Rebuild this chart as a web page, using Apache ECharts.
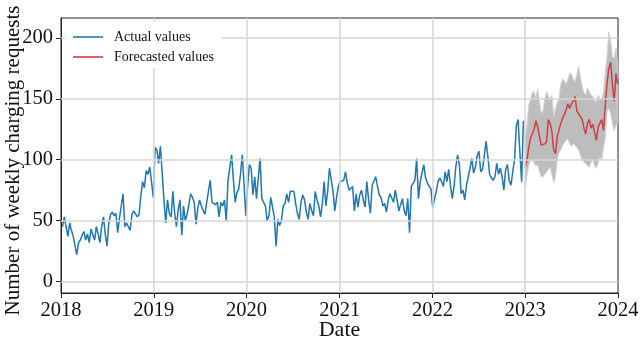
<!DOCTYPE html>
<html>
<head>
<meta charset="utf-8">
<script src="https://cdn.jsdelivr.net/npm/echarts@6/dist/echarts.min.js"></script>
<style>
html,body{margin:0;padding:0;background:#fff;}
#chart{width:640px;height:339px;}
</style>
</head>
<body>
<div id="chart"></div>
<script>
// ---- Data (weekly values) ----
const actual2018 = [45,53,54,37,48,42,37,38,22,32,34,38,41,34,39,32,43,42,34,45,39,32,45,53,39,29,48,55,57,54,56,40,52,51,72,45,48,47,42,55,58,57,53,55,70,82,77,91,88,94,82,69];
const actual2019 = [110,108,97,111,89,67,48,67,56,53,74,56,45,59,67,38,62,50,55,55,72,69,65,47,60,67,62,63,55,65,65,83,65,66,63,65,53,65,62,67,50,83,82,104,84,65,73,76,88,104,80,54];
const actual2020 = [78,96,93,71,86,68,85,101,68,69,62,50,54,69,61,53,29,51,46,50,62,64,72,65,74,75,74,64,56,51,65,71,67,57,51,64,58,54,74,67,62,53,64,82,62,74,93,92,74,58,69,78];
const actual2021 = [82,81,83,90,81,75,76,78,58,72,61,71,75,67,61,82,67,56,79,78,86,78,71,69,62,64,57,67,72,71,65,75,67,58,57,68,58,54,68,40,78,79,83,101,68,82,89,96,85,81,78,76];
const actual2022 = [61,60,74,82,85,82,78,90,82,92,79,68,78,94,104,96,72,75,67,79,86,93,101,89,94,103,107,90,92,103,115,103,88,85,83,86,97,88,93,86,75,92,96,83,79,90,100,128,133,106,82,132];
const forecast2023 = [94,100,110,118,121,125,132,127,128,112,111,113,115,133,130,123,108,105,119,118,130,134,137,141,146,142,146,148,152,140,138,138,133,126,121,130,133,126,129,128,116,127,130,133,124,145,163,175,180,162,148,171,162];
const bandUpper2023 = [118,128,145,150,155,156,150,158,148,138,140,150,156,152,150,153,136,142,147,150,162,166,165,162,166,171,170,166,164,170,177,168,160,155,153,159,156,153,152,148,148,153,150,150,155,171,185,205,198,185,183,192,178];
const bandLower2023 = [75,88,95,100,100,97,95,96,90,86,86,88,90,92,94,88,81,86,100,106,108,112,114,116,117,113,111,113,112,110,108,104,100,98,97,95,94,98,100,95,93,98,102,100,110,118,140,142,138,130,124,128,130];
const yTicks = [0,50,100,150,200];
const xYears = [2018,2019,2020,2021,2022,2023,2024];

// ---- Build series data ----
const DAY = 86400000;
const actualStart = Date.UTC(2018,0,7);
const forecastStart = Date.UTC(2023,0,1);
const actualVals = [].concat(actual2018, actual2019, actual2020, actual2021, actual2022);
const actualData = actualVals.map((v,i)=>[actualStart + i*7*DAY, v]);
const fDates = forecast2023.map((v,i)=>forecastStart + i*7*DAY);
const forecastData = forecast2023.map((v,i)=>[fDates[i], v]);
const bandRows = fDates.map((t,i)=>[t, bandLower2023[i], bandUpper2023[i]]);
const yearTimes = xYears.map(y=>Date.UTC(y,0,1));

const FONT = 'Liberation Serif';
const chart = echarts.init(document.getElementById('chart'), null, {renderer:'canvas'});
chart.setOption({
  animation:false,
  backgroundColor:'#fff',
  grid:{left:61,right:22,top:18,bottom:46,show:true,borderColor:'#222',borderWidth:1,
        backgroundColor:'transparent',containLabel:false,outerBoundsMode:'none'},
  legend:{
    data:[{name:'Actual values',icon:'rect'},{name:'Forecasted values',icon:'rect'}],
    orient:'vertical', left:65, top:22, padding:[8,8,4,8], itemWidth:30, itemHeight:1.6, itemGap:6,
    backgroundColor:'#fff', z:10,
    textStyle:{fontFamily:FONT,fontSize:14,color:'#111',lineHeight:14,padding:[0,0,0,6]}
  },
  xAxis:{
    type:'value', min:yearTimes[0], max:yearTimes[yearTimes.length-1],
    name:'Date', nameLocation:'middle', nameGap:26, nameMoveOverlap:false,
    nameTextStyle:{fontFamily:FONT,fontSize:22,color:'#111'},
    axisLine:{show:true,onZero:false,lineStyle:{color:'#222',width:1}},
    axisTick:{show:true,inside:false,length:5,lineStyle:{color:'#222'},customValues:yearTimes},
    axisLabel:{fontFamily:FONT,fontSize:20.5,color:'#111',margin:7,customValues:yearTimes,
      formatter:(v)=>String(new Date(v).getUTCFullYear())},
    splitLine:{show:false}
  },
  yAxis:{
    type:'value', min:-9.5, max:216.4,
    name:'Number of weekly charging requests', nameLocation:'middle', nameGap:37, nameMoveOverlap:false,
    nameTextStyle:{fontFamily:FONT,fontSize:21,color:'#111',padding:[0,10,0,0]},
    axisLine:{show:true,onZero:false,lineStyle:{color:'#222',width:1}},
    axisTick:{show:true,inside:false,length:5,lineStyle:{color:'#222'},customValues:yTicks},
    axisLabel:{fontFamily:FONT,fontSize:20.5,color:'#111',margin:8,customValues:yTicks},
    splitLine:{show:false}
  },
  series:[
    {
      name:'grid', type:'line', data:[], z:1, silent:true,
      markLine:{silent:true, symbol:'none', label:{show:false}, animation:false,
        lineStyle:{color:'#d6d6d6',width:1.5,type:'solid'},
        data:[].concat(yTicks.map(v=>({yAxis:v})), yearTimes.slice(1,-1).map(t=>({xAxis:t})))}
    },
    {
      name:'band', type:'custom', data:bandRows, z:2, silent:true,
      encode:{x:0, y:[1,2]},
      renderItem:function(params, api){
        if (params.dataIndex !== 0) return null;
        const pts = [];
        for (let i=0;i<bandRows.length;i++) pts.push(api.coord([bandRows[i][0], bandRows[i][2]]));
        for (let i=bandRows.length-1;i>=0;i--) pts.push(api.coord([bandRows[i][0], bandRows[i][1]]));
        return {type:'polygon', shape:{points:pts}, style:{fill:'#bdbdbd', stroke:'#d2d2d2', lineWidth:1}};
      }
    },
    {
      name:'Actual values', type:'line', data:actualData, symbol:'none', z:3,
      lineStyle:{color:'#1f77b4',width:1.5}, itemStyle:{color:'#1f77b4'}
    },
    {
      name:'Forecasted values', type:'line', data:forecastData, symbol:'none', z:4,
      lineStyle:{color:'#cf3f4a',width:1.5}, itemStyle:{color:'#cf3f4a'}
    }
  ]
});
</script>
</body>
</html>
